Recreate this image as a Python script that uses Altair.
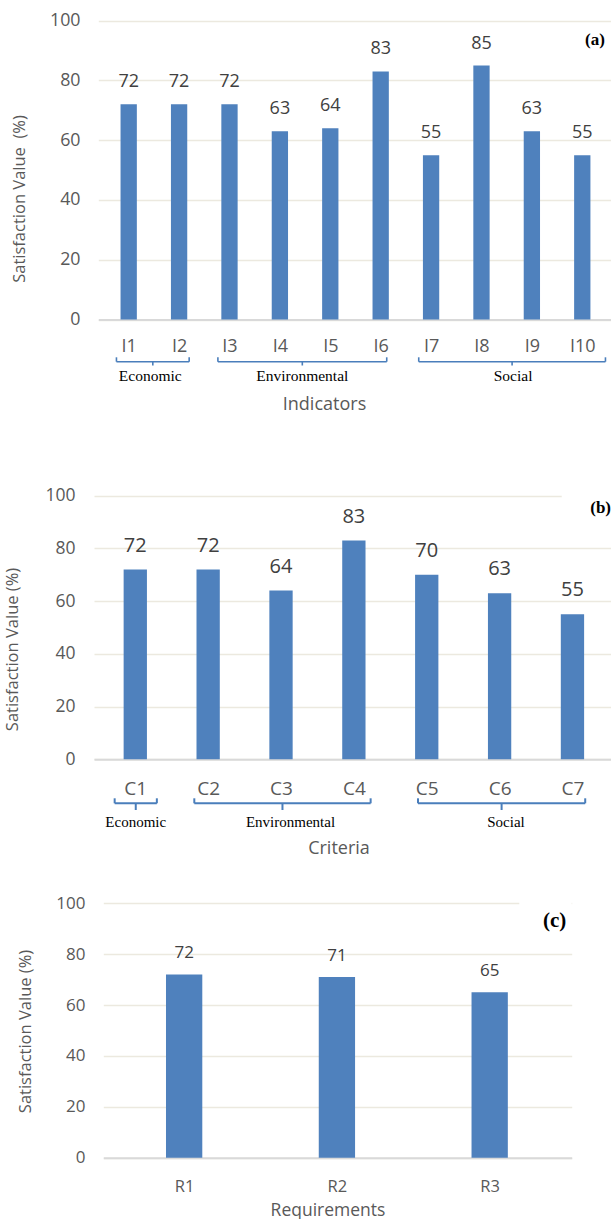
import altair as alt
import pandas as pd

# ---- data -------------------------------------------------------------
indicators = ["I1", "I2", "I3", "I4", "I5", "I6", "I7", "I8", "I9", "I10"]
indicator_values = [72, 72, 72, 63, 64, 83, 55, 85, 63, 55]

criteria = ["C1", "C2", "C3", "C4", "C5", "C6", "C7"]
criteria_values = [72, 72, 64, 83, 70, 63, 55]

requirements = ["R1", "R2", "R3"]
requirement_values = [72, 71, 65]

group_names = ["Economic", "Environmental", "Social"]
indicator_groups = [("I1", "I2"), ("I3", "I6"), ("I7", "I10")]
criteria_groups = [("C1", "C1"), ("C2", "C4"), ("C5", "C7")]

y_ticks = [0, 20, 40, 60, 80, 100]

# ---- styling ----------------------------------------------------------
SANS = "Open Sans"
SERIF = "Liberation Serif"
BAR = "#4F81BD"
BRACE = "#4A7EBB"
GRID = "#ECE9DF"
BASE = "#D9D9D9"
GREY = "#595959"
DARK = "#404040"
PAGE_W = 611


def panel(cats, vals, p, groups=None, braces=None):
    n = len(cats)
    lo = 1 + (p["x0"] - p["c1"]) / p["step"]
    hi = 1 + (p["x1"] - p["c1"]) / p["step"]
    xs = alt.Scale(domain=[lo, hi], range=[p["x0"], p["x1"]], nice=False, zero=False)
    ys = alt.Scale(domain=[0, 100], range=[p["y0"], p["y100"]], nice=False)

    label_expr = "[" + ",".join(f"'{c}'" for c in cats) + "][datum.value - 1]"
    xaxis = alt.Axis(
        values=list(range(1, n + 1)), labelExpr=label_expr,
        grid=False, ticks=False, tickSize=0,
        domainColor=BASE, domainWidth=2,
        labelFont=SANS, labelFontSize=p["xlab_fs"], labelColor=GREY,
        labelPadding=p["xlab_pad"], labelBaseline="middle",
        labelFlush=False, labelOverlap=False,
        offset=-(p["h"] - p["y0"]),
        title=p["xtitle"], titleFont=SANS, titleFontSize=p["xtitle_fs"],
        titleFontWeight="normal", titleColor=GREY,
        titleX=p["xtitle_x"], titleY=p["xtitle_y"],
        titleAlign="center", titleBaseline="middle",
    )
    yaxis = alt.Axis(
        values=y_ticks, format="d",
        grid=True, gridColor=GRID, gridWidth=1.3,
        domain=False, ticks=False, tickSize=0,
        labelFont=SANS, labelFontSize=p["ylab_fs"], labelColor=GREY,
        labelPadding=p["ylab_pad"],
        offset=-p["x0"],
        title=p["ytitle"], titleFont=SANS, titleFontSize=p["ytitle_fs"],
        titleFontWeight="normal", titleColor=GREY,
        titleX=p["ytitle_x"], titleY=p["ytitle_y"],
        titleAlign="center", titleBaseline="middle",
    )

    def X(field):
        return alt.X(field, type="quantitative", scale=xs, axis=xaxis)

    def Y(field):
        return alt.Y(field, type="quantitative", scale=ys, axis=yaxis)

    df = pd.DataFrame({"idx": list(range(1, n + 1)), "cat": cats, "value": vals})
    base = alt.Chart(df)
    bars = base.mark_bar(width=p["bar_w"], color=BAR).encode(x=X("idx"), y=Y("value"))
    values = base.mark_text(
        dy=-p["lift"], baseline="middle", font=SANS, fontSize=p["val_fs"], color=DARK
    ).encode(x=X("idx"), y=Y("value"), text=alt.Text("value:Q"))

    layers = [bars, values]

    if groups is not None:
        # each brace: (left overhang, right overhang, label nudge) in category steps
        rows = []
        for name, (first, last), (pl, pr, nudge) in zip(group_names, groups, braces):
            a = cats.index(first) + 1 - pl
            b = cats.index(last) + 1 + pr
            rows.append({"group": name, "lo": a, "hi": b, "mid": (a + b) / 2,
                         "lab": (a + b) / 2 + nudge})
        gdf = pd.DataFrame(rows)
        ends = gdf.melt(id_vars=["group"], value_vars=["lo", "hi"], value_name="pos")
        gch = alt.Chart(gdf)
        layers += [
            gch.mark_rule(color=BRACE, strokeWidth=p["brace_w"]).encode(
                x=X("lo"), x2="hi", y=alt.value(p["brace_y"])),
            alt.Chart(ends).mark_rule(color=BRACE, strokeWidth=p["brace_w"]).encode(
                x=X("pos"), y=alt.value(p["brace_top"]), y2=alt.value(p["brace_y"])),
            gch.mark_rule(color=BRACE, strokeWidth=p["brace_w"]).encode(
                x=X("mid"), y=alt.value(p["brace_y"]), y2=alt.value(p["brace_tip"])),
            gch.mark_text(font=SERIF, fontSize=p["grp_fs"], color="black", baseline="middle").encode(
                x=X("lab"), y=alt.value(p["grp_y"]), text="group:N"),
        ]

    tag = pd.DataFrame({"tag": [p["tag"]]})
    if p.get("box") is not None:
        bx = p["box"]
        layers.append(
            alt.Chart(tag).mark_rect(color="white").encode(
                x=alt.value(bx[0]), x2=alt.value(bx[1]), y=alt.value(bx[2]), y2=alt.value(bx[3]))
        )
    layers.append(
        alt.Chart(tag).mark_text(
            font=SERIF, fontWeight="bold", fontSize=p["tag_fs"], color="black",
            baseline="middle", align=p["tag_align"]
        ).encode(x=alt.value(p["tag_x"]), y=alt.value(p["tag_y"]), text="tag:N")
    )

    return alt.layer(*layers).properties(width=PAGE_W, height=p["h"])


pa = dict(
    h=445, y0=319.5, y100=20.7, x0=98.3, x1=611, c1=124.2, step=51.4, bar_w=16.3,
    val_fs=18, lift=22,
    xlab_fs=18, xlab_pad=26.5,
    xtitle="Indicators", xtitle_fs=18, xtitle_x=324, xtitle_y=84.5,
    ylab_fs=17.8, ylab_pad=18.3,
    ytitle="Satisfaction Value\u00a0 (%)", ytitle_fs=16.5, ytitle_x=-78.6, ytitle_y=198.5,
    brace_w=1.6, brace_top=357.3, brace_y=361.7, brace_tip=365.5, grp_fs=15.5, grp_y=375.5,
    tag="(a)", tag_fs=17, tag_x=595, tag_y=40, tag_align="center", box=None,
)
pb = dict(
    h=425, y0=314.3, y100=50.7, x0=94, x1=611, c1=131, step=74.3, bar_w=23.3,
    val_fs=20, lift=24,
    xlab_fs=19, xlab_pad=28.7,
    xtitle="Criteria", xtitle_fs=18, xtitle_x=338.5, xtitle_y=89,
    ylab_fs=17.5, ylab_pad=19,
    ytitle="Satisfaction Value (%)", ytitle_fs=16.5, ytitle_x=-82, ytitle_y=204,
    brace_w=2, brace_top=353.3, brace_y=358.3, brace_tip=365, grp_fs=15, grp_y=377,
    tag="(b)", tag_fs=17, tag_x=611, tag_y=63, tag_align="right",
    box=(561.7, 611, 42, 78),
)
pc = dict(
    h=349, y0=287.7, y100=33.3, x0=103.3, x1=571.7, c1=180.8, step=156.1, bar_w=36.3,
    val_fs=17, lift=21.5,
    xlab_fs=16.5, xlab_pad=28.3,
    xtitle="Requirements", xtitle_fs=17.5, xtitle_x=327.5, xtitle_y=52.3,
    ylab_fs=17, ylab_pad=18.3,
    ytitle="Satisfaction Value (%)", ytitle_fs=16.5, ytitle_x=-77.5, ytitle_y=161,
    tag="(c)", tag_fs=21, tag_x=554.7, tag_y=50.8, tag_align="center",
    box=(519.3, 571.7, 25, 70),
)

chart_a = panel(indicators, indicator_values, pa, indicator_groups,
                [(0.243, 0.2, -0.05), (0.23, 0.12, 0.0), (0.245, 0.46, 0.02)])
chart_b = panel(criteria, criteria_values, pb, criteria_groups,
                [(0.283, 0.296, 0.0), (0.19, 0.23, 0.11), (0.12, 0.175, 0.06)])
chart_c = panel(requirements, requirement_values, pc)

chart = (
    alt.vconcat(chart_a, chart_b, chart_c, spacing=0, bounds="flush")
    .properties(padding=0, background="white")
    .configure_view(stroke=None)
)

chart.save("out.html", embed_options={"renderer": "svg", "actions": False})
